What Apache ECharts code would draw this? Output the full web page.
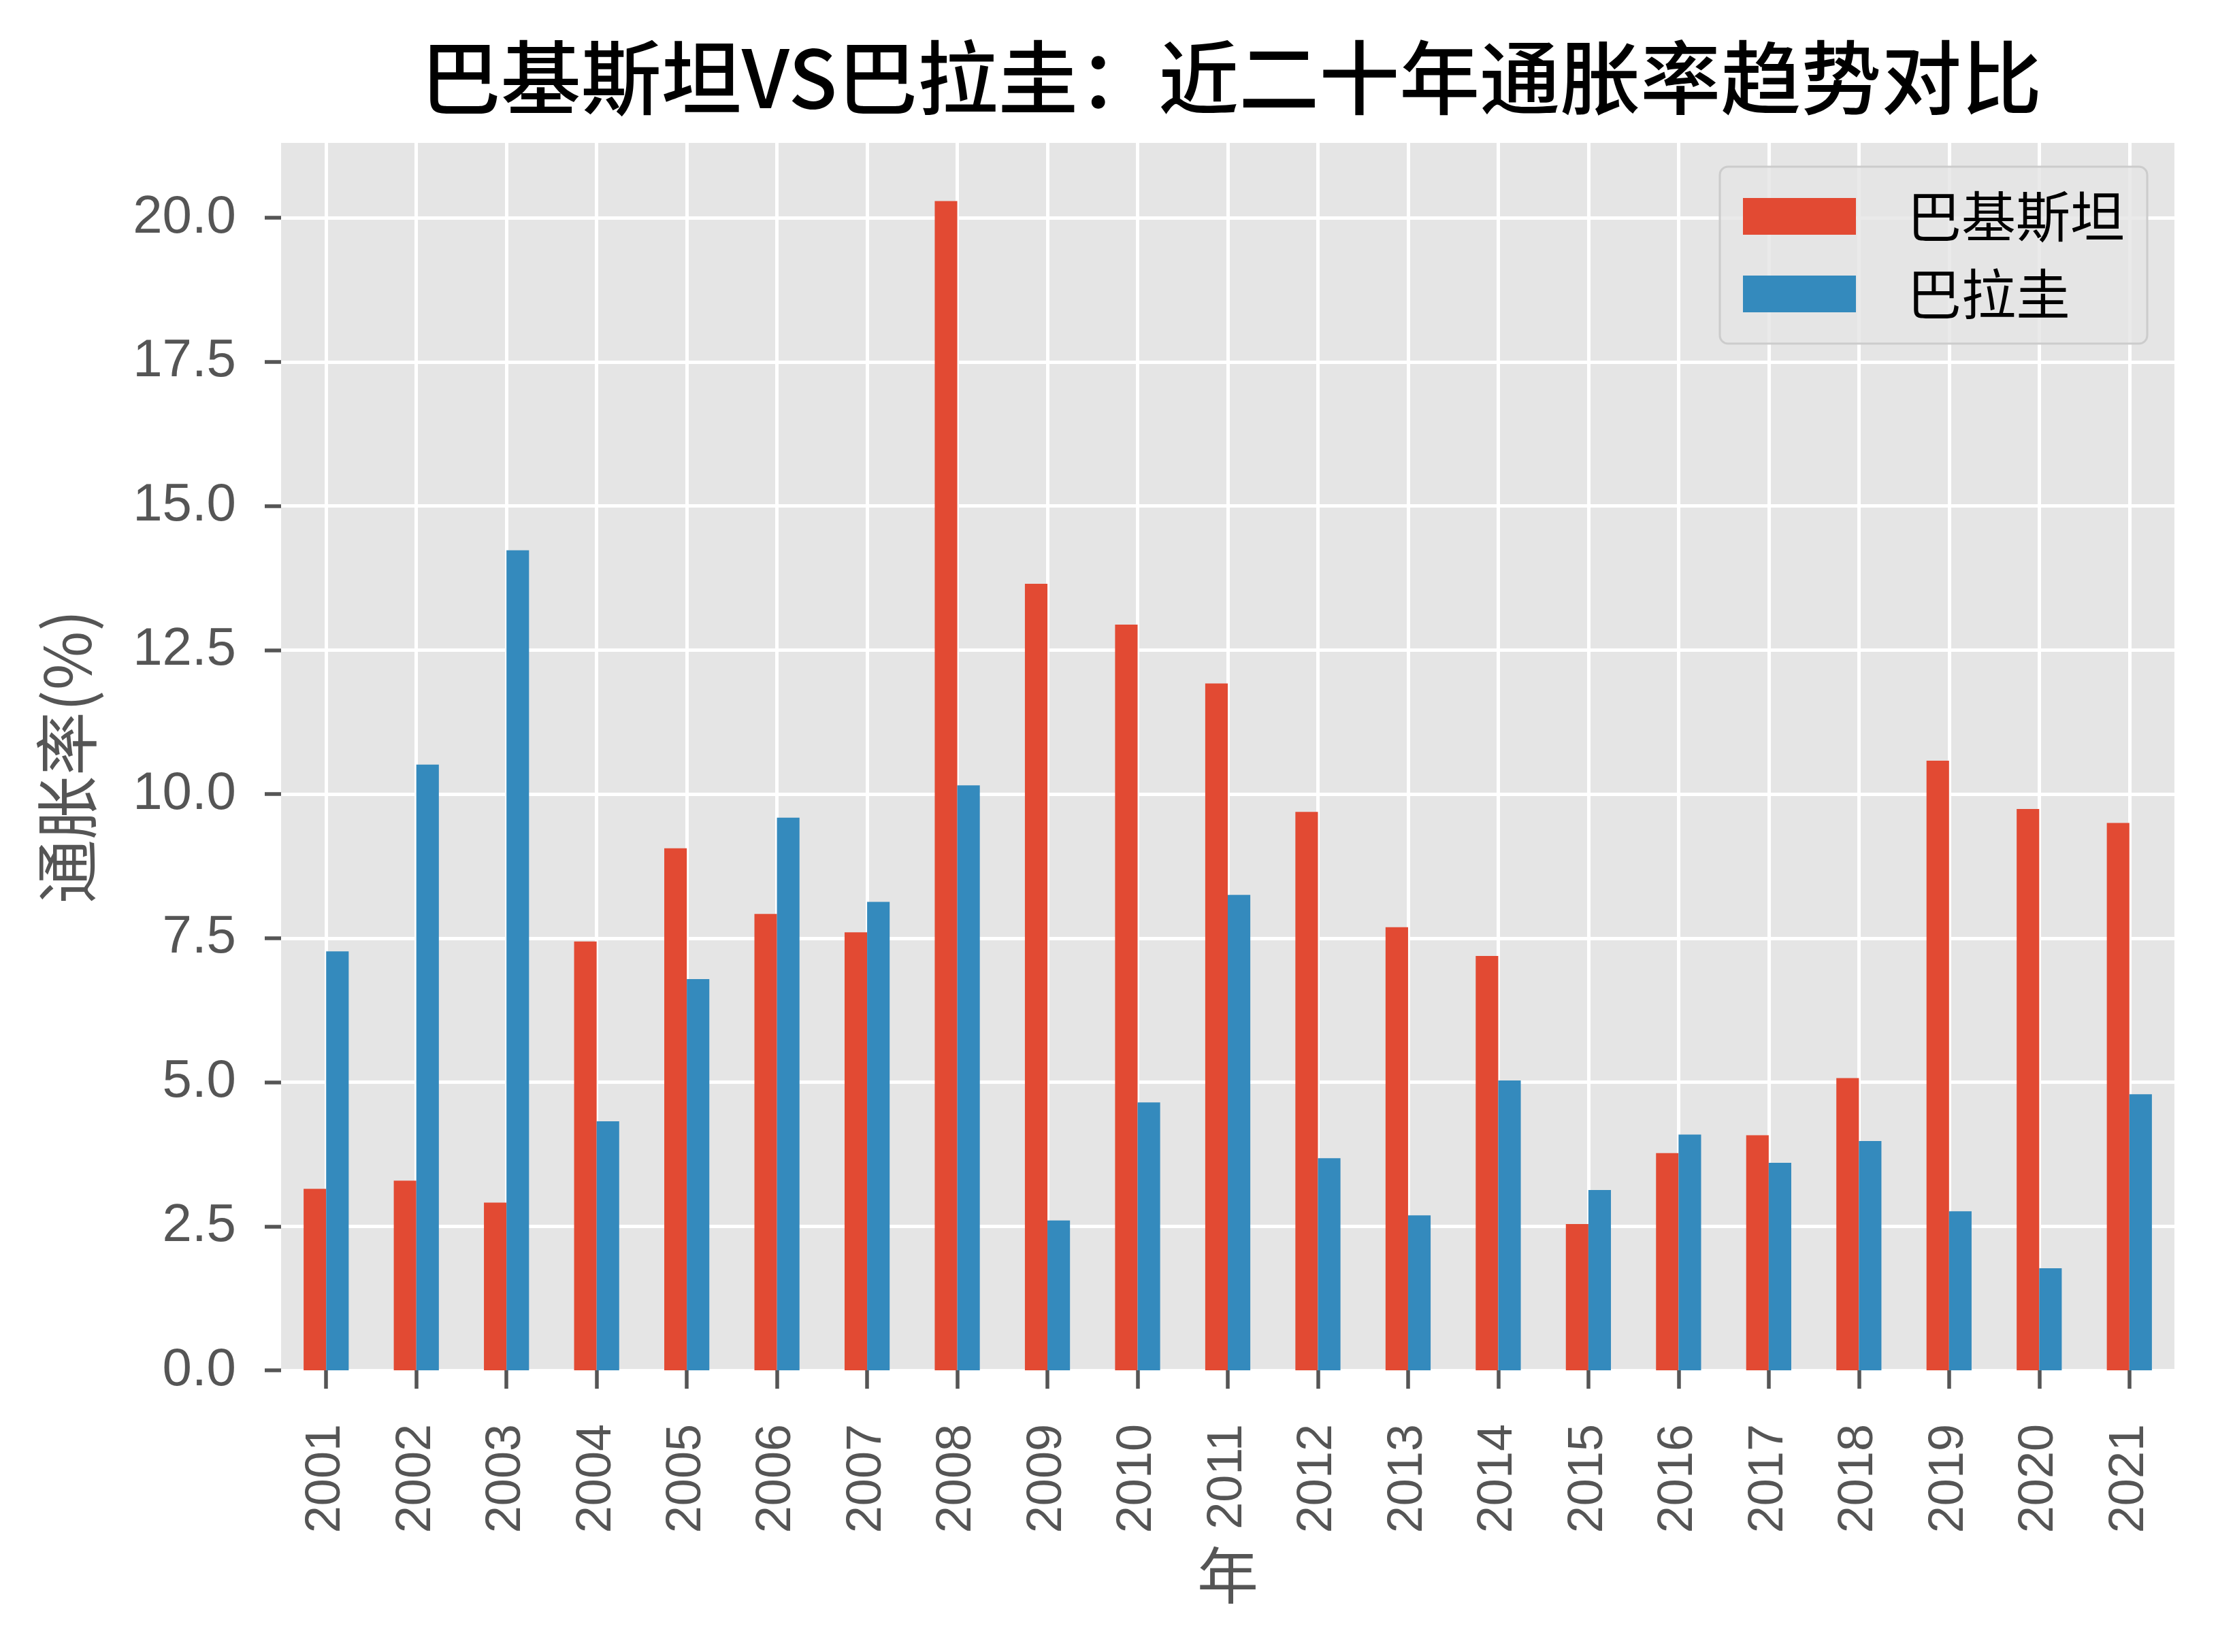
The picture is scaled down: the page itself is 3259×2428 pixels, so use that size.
<!DOCTYPE html>
<html><head><meta charset="utf-8">
<script src="https://cdn.jsdelivr.net/npm/echarts@6/dist/echarts.min.js"></script>
<style>html,body{margin:0;padding:0;background:#fff}#c{width:3259px;height:2428px}</style>
</head><body><div id="c"></div>
<script>
const years = ['2001','2002','2003','2004','2005','2006','2007','2008','2009','2010','2011','2012','2013','2014','2015','2016','2017','2018','2019','2020','2021'];
const pakistan = [3.15, 3.29, 2.91, 7.44, 9.06, 7.92, 7.60, 20.29, 13.65, 12.94, 11.92, 9.69, 7.69, 7.19, 2.54, 3.77, 4.08, 5.07, 10.58, 9.74, 9.50];
const paraguay = [7.27, 10.51, 14.23, 4.32, 6.79, 9.59, 8.13, 10.15, 2.60, 4.65, 8.25, 3.68, 2.69, 5.03, 3.13, 4.09, 3.60, 3.98, 2.76, 1.77, 4.79];
const yTicks = [0, 2.5, 5, 7.5, 10, 12.5, 15, 17.5, 20];
const seriesNames = ['巴基斯坦', '巴拉圭'];
const titleText = '巴基斯坦VS巴拉圭：近二十年通胀率趋势对比';
const yName = '通胀率(%)';
const xName = '年';

const CJK = '"Noto Sans CJK SC", "Noto Sans", sans-serif';
const NUM = '"Liberation Sans", Arial, sans-serif';
const chart = echarts.init(document.getElementById('c'), null, {renderer: 'canvas'});
chart.setOption({
  animation: false,
  backgroundColor: '#ffffff',
  title: {
    text: titleText,
    left: 1804, top: 50,
    textAlign: 'center',
    textStyle: {fontFamily: CJK, fontSize: 118, fontWeight: 500, color: '#000'}
  },
  grid: {left: 413, right: 64, top: 210, bottom: 414, show: true, backgroundColor: '#E5E5E5', borderWidth: 0, containLabel: false},
  legend: {
    orient: 'vertical', right: 104, top: 245,
    itemWidth: 166, itemHeight: 54, itemGap: 34,
    padding: [33, 33, 33, 34],
    backgroundColor: 'rgba(229,229,229,0.8)', borderColor: '#cccccc', borderWidth: 3, borderRadius: 12,
    icon: 'rect',
    textStyle: {fontFamily: CJK, fontSize: 80, color: '#000', lineHeight: 80, padding: [0, 0, 0, 70]},
    data: seriesNames
  },
  xAxis: {
    type: 'category', data: years, boundaryGap: true,
    axisLine: {show: false},
    axisTick: {show: true, alignWithLabel: true, length: 27, lineStyle: {color: '#555555', width: 5.5}},
    axisLabel: {rotate: 90, margin: 79, fontSize: 72, color: '#555555', fontFamily: NUM},
    splitLine: {show: true, alignWithLabel: true, lineStyle: {color: '#ffffff', width: 5}},
    name: xName, nameLocation: 'middle', nameGap: 256,
    nameTextStyle: {fontFamily: CJK, fontSize: 90, color: '#555555'}
  },
  yAxis: {
    type: 'value', min: 0, max: 21.3, interval: 2.5,
    axisLine: {show: false},
    axisTick: {show: true, length: 24, lineStyle: {color: '#555555', width: 5.5}, customValues: yTicks},
    axisLabel: {margin: 66, fontSize: 78, color: '#555555', fontFamily: NUM, customValues: yTicks,
      formatter: v => Number(v).toFixed(1)},
    splitLine: {show: true, lineStyle: {color: '#ffffff', width: 5}},
    name: yName, nameLocation: 'middle', nameGap: 268,
    nameTextStyle: {fontFamily: CJK, fontSize: 94, color: '#555555'}
  },
  series: [
    {name: seriesNames[0], type: 'bar', data: pakistan, barWidth: '25%', barGap: '0%', itemStyle: {color: '#E24A33'}},
    {name: seriesNames[1], type: 'bar', data: paraguay, barWidth: '25%', barGap: '0%', itemStyle: {color: '#348ABD'}}
  ]
});
</script></body></html>
